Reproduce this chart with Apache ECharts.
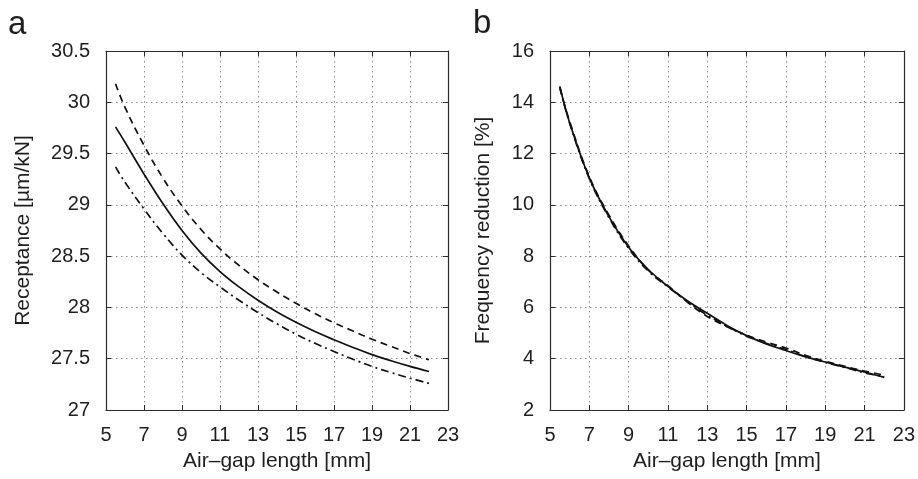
<!DOCTYPE html>
<html>
<head>
<meta charset="utf-8">
<script src="https://cdn.jsdelivr.net/npm/echarts@6/dist/echarts.min.js"></script>
<style>html,body{margin:0;padding:0;background:#fff}#c{width:918px;height:479px}</style>
</head>
<body>
<div id="c"></div>
<script>
const gapLength = [5.5, 6, 7, 8, 9, 10, 11, 12, 13, 14, 15, 16, 17, 18, 19, 20, 21, 22];

const receptanceSolid   = [29.76, 29.61, 29.30, 29.01, 28.75, 28.53, 28.35, 28.20, 28.07, 27.955, 27.855, 27.765, 27.685, 27.61, 27.54, 27.48, 27.425, 27.375];
const receptanceDashed  = [30.18, 29.95, 29.58, 29.26, 28.99, 28.76, 28.57, 28.41, 28.27, 28.15, 28.04, 27.94, 27.85, 27.77, 27.69, 27.62, 27.55, 27.49];
const receptanceDashDot = [29.37, 29.22, 28.96, 28.72, 28.51, 28.34, 28.20, 28.07, 27.95, 27.84, 27.74, 27.65, 27.57, 27.495, 27.425, 27.365, 27.31, 27.26];

const reductionSolid   = [14.62, 13.20, 11.05, 9.54, 8.35, 7.48, 6.82, 6.25, 5.77, 5.30, 4.90, 4.58, 4.32, 4.07, 3.87, 3.67, 3.48, 3.27];
const reductionDashed  = [14.55, 13.25, 11.10, 9.60, 8.40, 7.45, 6.85, 6.20, 5.65, 5.25, 4.92, 4.65, 4.42, 4.13, 3.90, 3.70, 3.52, 3.36];
const reductionDashDot = [14.60, 13.18, 11.02, 9.50, 8.30, 7.42, 6.80, 6.22, 5.70, 5.27, 4.88, 4.60, 4.36, 4.08, 3.86, 3.66, 3.45, 3.30];

const xTicks = [5, 7, 9, 11, 13, 15, 17, 19, 21, 23];
const receptanceTicks = [27, 27.5, 28, 28.5, 29, 29.5, 30, 30.5];
const reductionTicks = [2, 4, 6, 8, 10, 12, 14, 16];

const xName = 'Air\u2013gap length [mm]';
const yNameLeft = 'Receptance [\u00b5m/kN]';
const yNameRight = 'Frequency reduction [%]';
const panelLabels = ['a', 'b'];

const FONT = 'Liberation Sans, Arial, Helvetica, sans-serif';
const TXT = '#1e1e1e';
const AX = '#2a2a2a';

const pair = (xs, ys) => xs.map((x, i) => [x, ys[i]]);

function xAxisPair(gi) {
  const common = {
    type: 'value', gridIndex: gi, min: xTicks[0], max: xTicks[xTicks.length - 1], interval: 2,
    axisLine: { show: true, onZero: false, lineStyle: { color: AX, width: 1.2 } },
    axisTick: { show: true, inside: true, length: 5, lineStyle: { color: AX } },
    minorTick: { show: false }
  };
  return [
    Object.assign({}, common, {
      position: 'bottom',
      name: xName, nameLocation: 'middle', nameGap: 41,
      nameTextStyle: { fontFamily: FONT, fontSize: 21, color: TXT },
      axisLabel: { show: true, margin: 15, fontFamily: FONT, fontSize: 20, color: TXT },
      splitLine: { show: true, lineStyle: { type: [1.5, 3.5], color: '#8a8a8a', width: 1 } }
    }),
    Object.assign({}, common, {
      position: 'top', axisLabel: { show: false }, splitLine: { show: false }
    })
  ];
}

function yAxisPair(gi, ticks, name, gap) {
  const common = {
    type: 'value', gridIndex: gi, min: ticks[0], max: ticks[ticks.length - 1], interval: ticks[1] - ticks[0],
    axisLine: { show: true, onZero: false, lineStyle: { color: AX, width: 1.2 } },
    axisTick: { show: true, inside: true, length: 5, lineStyle: { color: AX } }
  };
  return [
    Object.assign({}, common, {
      position: 'left',
      name: name, nameLocation: 'middle', nameGap: gap, nameRotate: 90,
      nameTextStyle: { fontFamily: FONT, fontSize: 21, color: TXT },
      axisLabel: { show: true, margin: 16, fontFamily: FONT, fontSize: 20, color: TXT },
      splitLine: { show: true, lineStyle: { type: [1.5, 3.5], color: '#8a8a8a', width: 1 } }
    }),
    Object.assign({}, common, {
      position: 'right', axisLabel: { show: false }, splitLine: { show: false }
    })
  ];
}

function line(ys, dash, yIdx, xIdx) {
  return {
    type: 'line', xAxisIndex: xIdx, yAxisIndex: yIdx,
    data: pair(gapLength, ys), smooth: 0.4, showSymbol: false, symbol: 'none',
    lineStyle: { color: '#111', width: 1.7, type: dash },
    silent: true, animation: false, z: 5
  };
}

const chart = echarts.init(document.getElementById('c'), null, { renderer: 'canvas' });
chart.setOption({
  backgroundColor: '#fff',
  animation: false,
  title: [
    { text: panelLabels[0], left: 8, top: 8, padding: 0, textStyle: { fontFamily: FONT, fontSize: 33, fontWeight: 'normal', color: TXT } },
    { text: panelLabels[1], left: 473, top: 7, padding: 0, textStyle: { fontFamily: FONT, fontSize: 33, fontWeight: 'normal', color: TXT } }
  ],
  grid: [
    { left: 106, right: 470, top: 51, bottom: 69, containLabel: false },
    { left: 550, right: 12, top: 51, bottom: 69, containLabel: false }
  ],
  xAxis: [...xAxisPair(0), ...xAxisPair(1)],
  yAxis: [...yAxisPair(0, receptanceTicks, yNameLeft, 72), ...yAxisPair(1, reductionTicks, yNameRight, 56)],
  series: [
    line(receptanceSolid, 'solid', 0, 0),
    line(receptanceDashed, [7, 5], 0, 0),
    line(receptanceDashDot, [8, 4, 2, 4], 0, 0),
    line(reductionSolid, 'solid', 2, 2),
    line(reductionDashed, [7, 5], 2, 2),
    line(reductionDashDot, [8, 4, 2, 4], 2, 2)
  ]
});
</script>
</body>
</html>
